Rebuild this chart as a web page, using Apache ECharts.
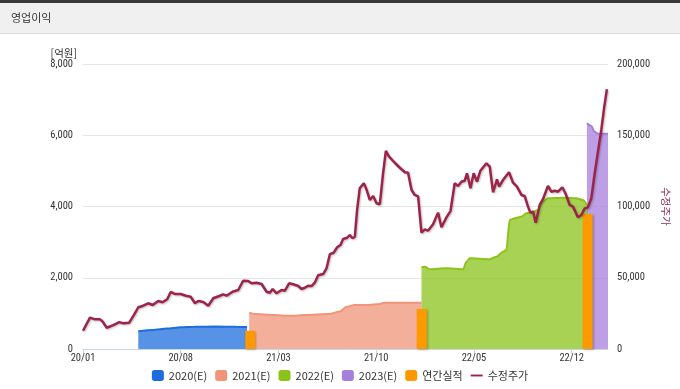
<!DOCTYPE html>
<html>
<head>
<meta charset="utf-8">
<script src="https://cdn.jsdelivr.net/npm/echarts@6/dist/echarts.min.js"></script>
<style>
html,body{margin:0;padding:0;background:#fff;}
#c{width:680px;height:389px;}
</style>
</head>
<body>
<div id="c"></div>
<script>
// x values are months since 2020/01
const tickMonths = [0, 7, 14, 21, 28, 35];
const leftTicks = [0, 2000, 4000, 6000, 8000];
const rightTicks = [0, 50000, 100000, 150000, 200000];

const est2020 = [[3.96,495],[5.0,530],[6.0,575],[7.0,610],[8.0,625],[9.5,630],[11.0,625],[11.75,615]];
const est2021 = [[11.90,1020],[12.31,980],[13.62,955],[14.82,930],[16.01,955],[17.56,980],[18.39,1050],[18.87,1185],[19.47,1235],[20.30,1235],[21.26,1265],[21.61,1300],[24.24,1300]];
const est2022 = [[24.24,2295],[24.48,2310],[24.83,2240],[26.03,2265],[27.22,2240],[27.46,2450],[27.70,2545],[29.13,2520],[29.61,2590],[30.08,2730],[30.32,2780],[30.56,3620],[30.92,3670],[31.40,3715],[31.76,3810],[32.23,3855],[32.59,3900],[32.94,4135],[33.30,4230],[34.37,4245],[35.33,4230],[35.81,4180],[36.16,3995]];
const est2023 = [[36.09,6335],[36.41,6260],[36.64,6100],[36.88,6040],[37.60,6040]];
const annualActual = [[11.98,510],[24.26,1125],[36.14,3790]];
const stockPrice = [
[0,12800],[0.50,22000],[0.86,20800],[1.22,20800],[1.41,19200],[1.70,14900],[2.17,16800],[2.60,18900],[2.88,18000],[3.31,18500],
[3.65,23900],[3.96,29300],[4.27,30200],[4.67,32100],[4.99,30900],[5.39,33700],[5.70,32800],[6.03,34900],[6.28,40000],[6.58,38600],
[6.99,38600],[7.37,37400],[7.71,36700],[8.02,32100],[8.25,33700],[8.61,33000],[8.97,30400],[9.33,35600],[9.76,37200],[10.04,38400],
[10.28,37400],[10.71,40200],[11.12,41400],[11.47,47900],[11.83,47700],[12.07,46100],[12.43,46500],[12.79,45600],[13.15,40200],[13.38,39500],
[13.58,42100],[13.86,39100],[14.22,41400],[14.46,40900],[14.76,46100],[15.05,45400],[15.41,44200],[15.65,42100],[15.89,43000],[16.12,44400],
[16.37,44200],[16.60,46500],[16.84,51700],[17.20,52600],[17.44,56600],[17.68,66500],[17.96,67600],[18.20,71400],[18.44,73000],[18.63,77200],
[18.92,78100],[19.11,80000],[19.30,77700],[19.47,78800],[19.63,97600],[19.82,112800],[20.11,116300],[20.30,112100],[20.54,104600],[20.78,107400],
[21.02,102300],[21.26,101600],[21.49,123300],[21.69,139000],[21.92,135000],[22.33,130700],[22.69,127200],[23.05,124000],[23.28,123700],[23.53,111600],
[23.76,108100],[24.00,107100],[24.24,81600],[24.48,84000],[24.71,83000],[25.07,87500],[25.43,95700],[25.67,85400],[26.03,92400],[26.32,96800],
[26.62,116300],[26.86,114400],[27.10,117400],[27.34,118100],[27.50,123300],[27.75,112800],[27.98,123300],[28.22,117400],[28.46,125100],[28.89,130300],
[29.13,127900],[29.37,110000],[29.65,119100],[29.80,113900],[30.08,118600],[30.51,124000],[30.80,116700],[31.08,113900],[31.40,108100],[31.63,107400],
[31.87,99900],[32.04,95700],[32.23,96400],[32.42,88600],[32.71,101100],[32.94,105100],[33.30,114400],[33.54,110400],[33.78,111100],[34.02,110400],
[34.33,113500],[34.57,108800],[34.85,101100],[35.09,99900],[35.45,92400],[35.69,94000],[35.93,98700],[36.16,99400],[36.41,106000],[36.64,122800],
[36.88,138300],[37.12,153700],[37.32,169100],[37.52,182300]
];

const FONT = "'Noto Sans CJK KR', 'Noto Sans', sans-serif";
const NUMFONT = "'Roboto Condensed', 'Liberation Sans', sans-serif";
const fmtNum = v => String(v).replace(/\B(?=(\d{3})+(?!\d))/g, ',');
const fmtMonth = v => { const y = 20 + Math.floor(v / 12); const m = v % 12 + 1; return y + '/' + (m < 10 ? '0' + m : m); };

function areaSeries(name, color, data) {
  return {
    name, type: 'line', data, symbol: 'none', smooth: 0.25, smoothMonotone: 'x',
    color, lineStyle: { width: 2, color }, areaStyle: { color, opacity: 0.75 }, z: 2
  };
}

const chart = echarts.init(document.getElementById('c'), null, { renderer: 'canvas' });
chart.setOption({
  animation: false,
  backgroundColor: '#fff',
  graphic: [
    { type: 'rect', shape: { x: 0, y: 0, width: 680, height: 3 }, style: { fill: '#3a3a3a' }, silent: true },
    { type: 'rect', shape: { x: 0, y: 3, width: 680, height: 30 }, style: { fill: '#f0f0f0' }, silent: true },
    { type: 'rect', shape: { x: 0, y: 33, width: 680, height: 1 }, style: { fill: '#dcdcdc' }, silent: true },
    { type: 'text', x: 11, y: 18, style: { text: '영업이익', fill: '#333', font: "11px " + FONT, textVerticalAlign: 'middle' }, silent: true }
  ],
  grid: { left: 83, right: 72, top: 64, bottom: 40, containLabel: false },
  legend: {
    top: 365, left: 'center', itemWidth: 12, itemHeight: 11, itemGap: 8, symbolKeepAspect: true,
    textStyle: { fontSize: 11, color: '#333', fontFamily: FONT },
    data: [
      { name: '2020(E)', icon: 'roundRect' },
      { name: '2021(E)', icon: 'roundRect' },
      { name: '2022(E)', icon: 'roundRect' },
      { name: '2023(E)', icon: 'roundRect' },
      { name: '연간실적', icon: 'roundRect' },
      { name: '수정주가', icon: 'path://M0,0 L14,0 L14,2.2 L0,2.2 Z' }
    ]
  },
  xAxis: {
    type: 'value', min: 0, max: 37.6,
    axisLine: { lineStyle: { color: '#ccd6eb' } },
    axisTick: { show: true, length: 5, lineStyle: { color: '#ccd6eb' }, customValues: tickMonths },
    splitLine: { show: false },
    axisLabel: { customValues: tickMonths, formatter: fmtMonth, margin: 4, fontSize: 10.5, color: '#333', fontFamily: NUMFONT }
  },
  yAxis: [
    {
      type: 'value', min: leftTicks[0], max: leftTicks[leftTicks.length - 1], interval: 2000,
      name: '[억원]', nameLocation: 'end', nameGap: 6,
      nameTextStyle: { align: 'right', padding: [0, 6, 0, 0], fontSize: 10.5, color: '#333', fontFamily: FONT },
      axisLine: { show: false }, axisTick: { show: false },
      splitLine: { lineStyle: { color: '#e6e6e6' } },
      axisLabel: { formatter: fmtNum, margin: 10, fontSize: 10.5, color: '#333', fontFamily: NUMFONT }
    },
    {
      type: 'value', min: rightTicks[0], max: rightTicks[rightTicks.length - 1], interval: 50000,
      name: '수정주가', nameLocation: 'middle', nameRotate: -90, nameGap: 45,
      nameTextStyle: { fontSize: 10.5, color: '#8e2a55', fontFamily: FONT },
      axisLine: { show: false }, axisTick: { show: false },
      splitLine: { show: false },
      axisLabel: { formatter: fmtNum, margin: 9, fontSize: 10.5, color: '#333', fontFamily: NUMFONT }
    }
  ],
  series: [
    areaSeries('2020(E)', '#1e6ddc', est2020),
    areaSeries('2021(E)', '#f0947a', est2021),
    areaSeries('2022(E)', '#8bc31b', est2022),
    areaSeries('2023(E)', '#a57fdc', est2023),
    {
      name: '연간실적', type: 'bar', data: annualActual, barWidth: 10, color: '#ff9900', z: 3,
      itemStyle: { color: '#ff9900', shadowColor: 'rgba(0,0,0,0.25)', shadowBlur: 2, shadowOffsetX: 1, shadowOffsetY: 1 }
    },
    {
      name: '수정주가', type: 'line', yAxisIndex: 1, data: stockPrice, symbol: 'none', color: '#9e2349', z: 5,
      lineStyle: { width: 2.5, color: '#9e2349', shadowColor: 'rgba(0,0,0,0.25)', shadowBlur: 2, shadowOffsetX: 1, shadowOffsetY: 1 }
    }
  ]
});
</script>
</body>
</html>
